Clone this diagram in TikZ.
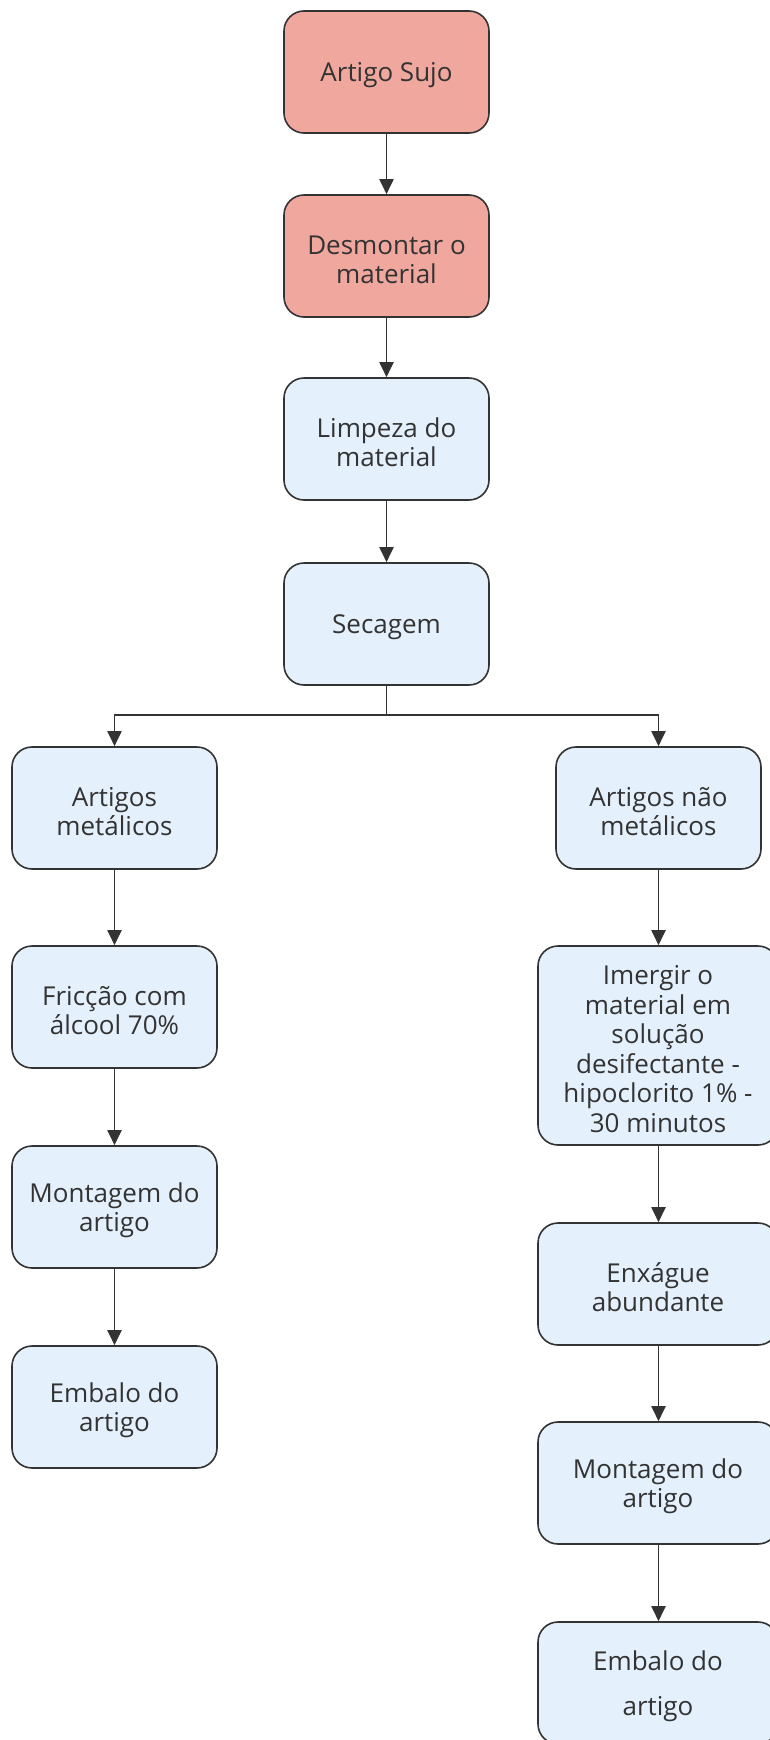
\documentclass[tikz,border=0pt]{standalone}
\usepackage{fontspec}
\setmainfont{Open Sans}
\usetikzlibrary{arrows.meta}
\definecolor{redfill}{HTML}{F0A89E}
\definecolor{bluefill}{HTML}{E4F0FC}
\definecolor{edge}{HTML}{333333}
\definecolor{txt}{HTML}{333333}
\newcommand{\ts}{\rule{0pt}{26pt}}
\begin{document}
\begin{tikzpicture}[x=1pt,y=-1pt,
  box/.style={draw=edge,line width=1.6pt,rounded corners=20pt,minimum width=205pt,minimum height=122pt,inner sep=0pt,align=center,text=txt,font=\fontsize{26}{29.5}\selectfont},
  redbox/.style={box,fill=redfill},
  bluebox/.style={box,fill=bluefill},
  widebox/.style={bluebox,minimum width=240pt},
  conn/.style={draw=edge,line width=1.9pt,-{Triangle[length=15pt,width=14pt]}}]
\useasboundingbox (0,0) rectangle (770,1740);
\node[redbox] (sujo) at (386.5,72) {\ts Artigo Sujo};
\node[redbox] (desm) at (386.5,256) {\ts Desmontar o\\material};
\node[bluebox] (limp) at (386.5,439) {\ts Limpeza do\\material};
\node[bluebox] (sec) at (386.5,624) {\ts Secagem};
\node[bluebox] (met) at (114.5,808) {\ts Artigos\\metálicos};
\node[bluebox] (nmet) at (658.5,808) {\ts Artigos não\\metálicos};
\node[bluebox] (fric) at (114.5,1007) {\ts Fricção com\\álcool 70\%};
\node[bluebox] (montL) at (114.5,1207) {\ts Montagem do\\artigo};
\node[bluebox] (embL) at (114.5,1407) {\ts Embalo do\\artigo};
\node[widebox,minimum height=199pt] (imer) at (658,1045.5) {\ts Imergir o\\material em\\solução\\desifectante -\\hipoclorito 1\% -\\30 minutos};
\node[widebox] (enx) at (658,1284) {\ts Enxágue\\abundante};
\node[widebox] (montR) at (658,1483) {\ts Montagem do\\artigo};
\node[widebox,font=\fontsize{26}{45}\selectfont] (embR) at (658,1683) {\ts Embalo do\\artigo};
\coordinate (split) at (386.5,715);
\draw[conn] (sujo) -- (desm);
\draw[conn] (desm) -- (limp);
\draw[conn] (limp) -- (sec);
\draw[draw=edge,line width=1.9pt] (sec.south) -- (split);
\draw[conn] (split) -| (met.north);
\draw[conn] (split) -| (nmet.north);
\draw[conn] (met) -- (fric);
\draw[conn] (fric) -- (montL);
\draw[conn] (montL) -- (embL);
\draw[conn] (nmet) -- (imer.north -| nmet.south);
\draw[conn] (imer.south -| nmet.south) -- (enx.north -| nmet.south);
\draw[conn] (enx.south -| nmet.south) -- (montR.north -| nmet.south);
\draw[conn] (montR.south -| nmet.south) -- (embR.north -| nmet.south);
\end{tikzpicture}
\end{document}
